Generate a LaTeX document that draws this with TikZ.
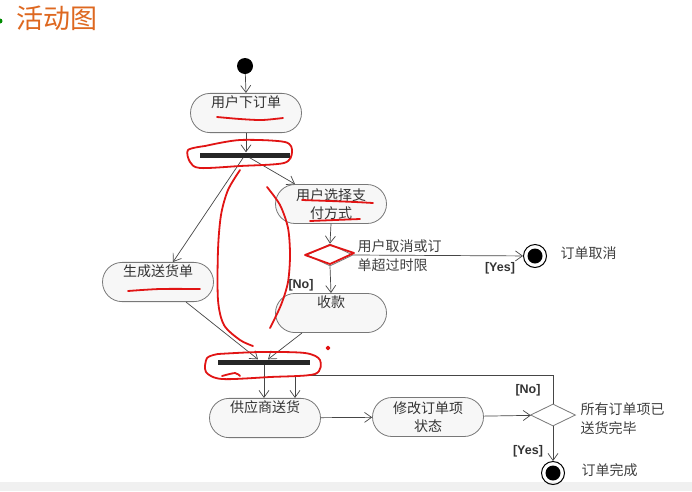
\documentclass[tikz,border=0pt]{standalone}
\usepackage{fontspec}
\newfontfamily\cjk{Noto Sans CJK SC}
\newfontfamily\lab{Liberation Sans}
\usetikzlibrary{arrows.meta,shapes.misc,shapes.geometric}

\definecolor{titleorange}{RGB}{222,104,32}
\definecolor{linegray}{RGB}{70,70,70}
\definecolor{boxgray}{RGB}{120,120,120}
\definecolor{pen}{RGB}{225,20,20}

\begin{document}
\begin{tikzpicture}[x=1pt,y=-1pt]
\tikzstyle{act}=[rounded rectangle,draw=boxgray,fill=gray!6,line width=0.8pt,minimum width=115pt,minimum height=39pt,inner sep=2pt,align=center,font=\cjk\fontsize{14}{18}\selectfont,text=black!80]
\tikzstyle{bar}=[rectangle,fill=black!85,minimum height=5pt,inner sep=0pt]
\tikzstyle{choice}=[diamond,draw=boxgray,fill=white,line width=0.8pt,inner sep=0pt,minimum width=46pt,minimum height=22pt]
\tikzstyle{arr}=[draw=linegray,line width=0.7pt,-{Straight Barb[length=7pt,width=10pt]}]
\tikzstyle{note}=[font=\cjk\fontsize{14}{19}\selectfont,text=black!75,align=left,anchor=west]
\tikzstyle{guard}=[font=\lab\bfseries\fontsize{12.5}{14}\selectfont,text=black!80]
\tikzstyle{pen}=[draw=pen,line width=1.8pt,line cap=round,line join=round]

\useasboundingbox (0,0) rectangle (692,491);
\fill[white] (0,0) rectangle (692,491);
\fill[gray!12] (0,482) rectangle (692,491);

% title
\fill[green!55!black] (0,21) circle (2.5pt);
\node[font=\cjk\fontsize{27}{30}\selectfont,text=titleorange] (title) at (57,18) {活动图};

% nodes
\node[circle,fill=black,minimum size=16pt,inner sep=0pt] (start) at (245,66) {};
\node[act] (order) at (246,113) {用户下订单\\\strut};
\node[bar,minimum width=90pt] (fork) at (245,155) {};
\node[act] (pay) at (331,204) {用户选择支\\付方式};
\node[act] (ship) at (158,282) {生成送货单\\\strut};
\node[choice] (cancel) at (330,255) {};
\node[circle,draw=black,line width=1pt,minimum size=23pt,inner sep=0pt] (end1) at (535,256) {};
\fill[black] (end1) circle (7.5pt);
\node[act] (collect) at (331,313) {收款\\\strut};
\node[bar,minimum width=92pt] (join) at (264,362) {};
\node[act] (supply) at (265,418) {供应商送货\\\strut};
\node[act] (update) at (428,417) {修改订单项\\状态};
\node[choice,minimum width=45pt] (done) at (553,415) {};
\node[circle,draw=black,line width=1pt,minimum size=23pt,inner sep=0pt] (end2) at (553,473) {};
\fill[black] (end2) circle (7.5pt);
\coordinate (back) at (295,375);

% texts
\node[note] (q1) at (354,256) {用户取消或订\\单超过时限};
\node[note] (e1) at (557,253) {订单取消};
\node[note] (q2) at (577,419) {所有订单项已\\送货完毕};
\node[note] (e2) at (578,470) {订单完成};
\node[guard] (yes1) at (500,268) {[Yes]};
\node[guard] (no1) at (301,285) {[No]};
\node[guard] (no2) at (528,390) {[No]};
\node[guard] (yes2) at (528,451) {[Yes]};

% flows
\draw[arr] (start) -- (order.north);
\draw[arr] (order.south) -- (order.south |- fork.north);
\draw[arr] (fork) -- ([xshift=15pt]ship.north);
\draw[arr] (fork) -- ([xshift=-36pt]pay.north);
\draw[arr] (pay.south) -- (cancel.north);
\draw[arr] (cancel.east) -- (end1);
\draw[arr] (cancel.south) -- (collect.north);
\draw[arr] ([xshift=28pt]ship.south) -- ([xshift=-6pt]join.north);
\draw[arr] ([xshift=-29pt]collect.south) -- ([xshift=4pt]join.north);
\draw[arr] (join.south) -- (join.south |- supply.north);
\draw[arr] (done.north) |- (back) -- (back |- supply.north);
\draw[arr] (supply) -- (update);
\draw[arr] (update) -- (done);
\draw[arr] (done.south) -- (end2);

% red pen marks
\draw[pen] plot[smooth] coordinates {(217,117) (240,119) (262,120) (283,118)};
\draw[pen] plot[smooth] coordinates {(205,146) (240,140) (285,142) (292,152) (284,163) (240,166) (200,168) (190,162) (188,150) (205,146)};
\draw[pen] plot[smooth] coordinates {(240,170) (228,190) (221,215) (218,250) (218,300) (224,325) (240,340) (253,346)};
\draw[pen] plot[smooth] coordinates {(267,187) (280,205) (288,228) (290,255) (288,282) (281,305) (270,328)};
\draw[pen] plot[smooth] coordinates {(302,200) (330,201) (355,202) (373,203)};
\draw[pen] plot[smooth] coordinates {(310,221) (335,220) (360,219)};
\draw[pen] (305,255) -- (330,245) -- (354,253) -- (330,264) -- cycle;
\draw[pen] plot[smooth] coordinates {(128,291) (160,289) (200,289)};
\draw[pen] plot[smooth] coordinates {(218,354) (260,352) (305,353) (320,360) (315,374) (270,377) (222,379) (206,372) (207,358) (218,354)};
\draw[pen] plot[smooth] coordinates {(222,376) (235,373) (240,376)};
\fill[pen] (328,348) circle (1.4pt);
\end{tikzpicture}
\end{document}
